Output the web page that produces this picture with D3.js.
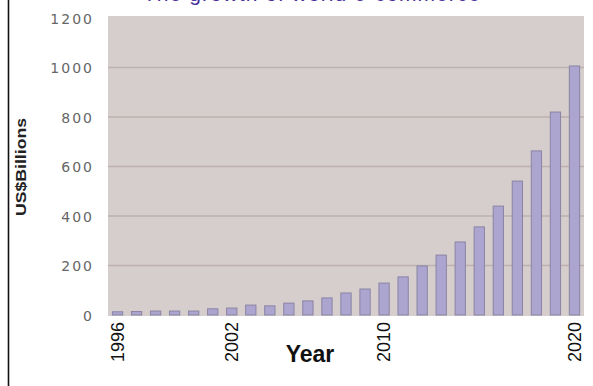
<!DOCTYPE html>
<html>
<head>
<meta charset="utf-8">
<script src="https://cdn.jsdelivr.net/npm/d3@7"></script>
<style>
  html, body { margin: 0; padding: 0; background: #fff; }
  svg { display: block; }
</style>
</head>
<body>
<div id="chart"></div>
<script>
const width = 593;
const height = 386;

const years = d3.range(1996, 2021);
const revenue = [13, 14, 16, 16, 16, 25, 28, 40, 37, 48, 57, 69, 89, 105, 129, 154, 198, 242, 295, 356, 440, 541, 663, 820, 1006];
const yTicks = [0, 200, 400, 600, 800, 1000, 1200];
const xLabels = [1996, 2002, 2010, 2020];

const plot = { left: 108, right: 584, top: 18, bottom: 315 };

const svg = d3.select("#chart")
    .append("svg")
    .attr("width", width)
    .attr("height", height);

const x = d3.scaleBand()
    .domain(years)
    .range([plot.left, plot.right])
    .paddingInner(0.46)
    .paddingOuter(0.23);

const y = d3.scaleLinear()
    .domain([0, 1200])
    .range([plot.bottom, plot.top]);

// left frame line
svg.append("line")
    .attr("x1", 8.5).attr("x2", 8.5)
    .attr("y1", 0).attr("y2", height)
    .attr("stroke", "#111")
    .attr("stroke-width", 1.6);

// title, cut off at the top edge like in the scan
svg.append("text")
    .attr("x", 143)
    .attr("y", 1)
    .attr("fill", "#4a2f9c")
    .attr("font-family", "'Liberation Sans', Arial, sans-serif")
    .attr("font-size", "21px")
    .attr("textLength", 337)
    .text("The growth of world e-commerce");

// plot background
svg.append("rect")
    .attr("x", plot.left)
    .attr("y", plot.top - 2)
    .attr("width", plot.right - plot.left)
    .attr("height", plot.bottom - plot.top + 3)
    .attr("fill", "#d6cecc");

// gridlines
svg.append("g")
    .selectAll("line")
    .data(yTicks.filter(d => d > 0 && d < 1200))
    .join("line")
    .attr("x1", plot.left)
    .attr("x2", plot.right)
    .attr("y1", d => y(d))
    .attr("y2", d => y(d))
    .attr("stroke", "#bcb1ae")
    .attr("stroke-width", 1.5);

// bars
svg.append("g")
    .selectAll("rect")
    .data(years)
    .join("rect")
    .attr("x", d => x(d))
    .attr("y", (d, i) => y(revenue[i]))
    .attr("width", x.bandwidth())
    .attr("height", (d, i) => y(0) - y(revenue[i]))
    .attr("fill", "#aca5d0")
    .attr("stroke", "#8a84a4")
    .attr("stroke-width", 1);

// y axis tick labels
const yAxis = d3.axisLeft(y)
    .tickValues(yTicks)
    .tickFormat(d3.format("d"))
    .tickSize(0)
    .tickPadding(0);

svg.append("g")
    .attr("transform", "translate(94,1)")
    .call(yAxis)
    .call(g => g.select(".domain").remove())
    .selectAll("text")
    .attr("fill", "#666")
    .attr("font-family", "'DejaVu Sans', Verdana, sans-serif")
    .attr("font-size", "14px")
    .attr("letter-spacing", "2px");

// x axis tick labels
const xAxis = d3.axisBottom(x)
    .tickValues(xLabels)
    .tickSize(0)
    .tickPadding(0);

svg.append("g")
    .attr("transform", `translate(0,${plot.bottom})`)
    .call(xAxis)
    .call(g => g.select(".domain").remove())
    .selectAll("text")
    .attr("transform", "rotate(-90)")
    .attr("text-anchor", "end")
    .attr("x", -7)
    .attr("y", 0)
    .attr("dy", "0.35em")
    .attr("fill", "#111")
    .attr("font-family", "'Liberation Sans', Arial, sans-serif")
    .attr("font-size", "18px");

// axis titles
svg.append("text")
    .attr("x", 310)
    .attr("y", 362)
    .attr("text-anchor", "middle")
    .attr("fill", "#111")
    .attr("font-family", "'Liberation Sans', Arial, sans-serif")
    .attr("font-size", "23px")
    .attr("font-weight", "bold")
    .text("Year");

svg.append("text")
    .attr("transform", "translate(26,167) rotate(-90)")
    .attr("text-anchor", "middle")
    .attr("fill", "#222")
    .attr("font-family", "'Liberation Sans', Arial, sans-serif")
    .attr("font-size", "14px")
    .attr("font-weight", "bold")
    .attr("textLength", 98)
    .attr("lengthAdjust", "spacingAndGlyphs")
    .text("US$Billions");
</script>
</body>
</html>
